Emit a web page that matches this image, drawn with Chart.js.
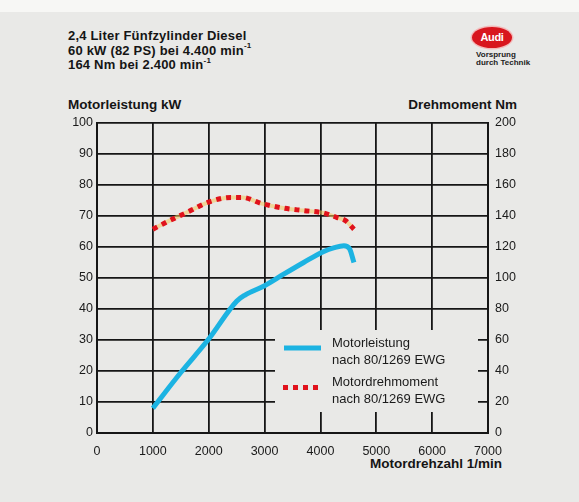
<!DOCTYPE html>
<html>
<head>
<meta charset="utf-8">
<script src="https://cdn.jsdelivr.net/npm/chart.js@4"></script>
<style>
  html, body { margin: 0; padding: 0; }
  body {
    width: 579px; height: 502px; position: relative; overflow: hidden;
    background: #e9e9e7;
    font-family: "Liberation Sans", Arial, sans-serif; color: #151515;
  }
  .strip { position: absolute; left: 0; top: 0; width: 579px; height: 12px; background: #f7f7f5; }
  #chart { position: absolute; left: 0; top: 0; }
  .head { position: absolute; left: 68px; top: 29px; font-size: 13px; font-weight: bold; line-height: 14.5px; letter-spacing: 0.2px; }
  .head sup { font-size: 8px; line-height: 0; position: relative; top: -1px; }
  .axis-title { position: absolute; font-size: 13.5px; font-weight: bold; white-space: nowrap; }
  .logo { position: absolute; left: 472px; top: 27px; width: 40px; height: 21px; border-radius: 50%;
          background: #d8161e; box-shadow: 0 0 0 1.5px #f3b9b9; color: #fff; font-weight: bold;
          font-size: 11px; line-height: 21px; text-align: center; letter-spacing: -0.3px; }
  .slogan { position: absolute; left: 476px; top: 51px; font-size: 8px; font-weight: bold; line-height: 8px; color: #222; }
</style>
</head>
<body>
<div class="strip"></div>
<div class="head">
  2,4 Liter Fünfzylinder Diesel<br>
  60 kW (82 PS) bei 4.400 min<sup>-1</sup><br>
  164 Nm bei 2.400 min<sup>-1</sup>
</div>
<div class="logo">Audi</div>
<div class="slogan">Vorsprung<br>durch Technik</div>
<div class="axis-title" style="left:68px; top:97px;">Motorleistung kW</div>
<div class="axis-title" style="right:62px; top:97px;">Drehmoment Nm</div>
<div class="axis-title" style="right:77px; top:456px;">Motordrehzahl 1/min</div>
<canvas id="chart" width="579" height="502"></canvas>
<script>
const rpmPower = [1000, 1500, 2000, 2500, 2650, 3000, 3350, 3700, 4050, 4250, 4420, 4520, 4600];
const powerKw = [8, 19.5, 30.3, 42.5, 44.5, 47.5, 51.3, 55, 58.5, 59.8, 60.4, 59.5, 55];

const rpmTorque = [1000, 1300, 1650, 2000, 2400, 2600, 2950, 3350, 3700, 4050, 4300, 4450, 4600];
const torqueNm = [131.5, 137, 143, 149, 152, 152, 148, 145, 143.5, 142, 139, 137, 131.5];

const legendLabels = [
  ['Motorleistung', 'nach 80/1269 EWG'],
  ['Motordrehmoment', 'nach 80/1269 EWG']
];

const BG = '#e9e9e7';
const GRID = '#161616';
const BLUE = '#1cb3e2';
const RED = '#e0121c';
const TICK_FONT = { family: '"Liberation Sans", Arial, sans-serif', size: 12.5 };

function points(xs, ys) {
  return xs.map((x, i) => ({ x, y: ys[i] }));
}

// blank the grid behind the legend and draw the legend there
const legendPlugin = {
  id: 'innerLegend',
  beforeDatasetsDraw(chart) {
    const ctx = chart.ctx;
    ctx.save();
    ctx.fillStyle = BG;
    ctx.fillRect(275, 330, 203, 82);
    ctx.restore();
  },
  afterDatasetsDraw(chart) {
    const ctx = chart.ctx;
    ctx.save();
    ctx.lineWidth = 5;
    ctx.strokeStyle = BLUE;
    ctx.beginPath();
    ctx.moveTo(284, 348);
    ctx.lineTo(321, 348);
    ctx.stroke();

    ctx.fillStyle = RED;
    for (let i = 0; i < 4; i++) {
      ctx.fillRect(283 + i * 10, 385, 5, 5);
    }

    ctx.fillStyle = '#1a1a1a';
    ctx.font = '13px "Liberation Sans", Arial, sans-serif';
    ctx.textBaseline = 'middle';
    ctx.fillText(legendLabels[0][0], 332, 343);
    ctx.fillText(legendLabels[0][1], 332, 360);
    ctx.fillText(legendLabels[1][0], 332, 382);
    ctx.fillText(legendLabels[1][1], 332, 399);
    ctx.restore();
  }
};

new Chart(document.getElementById('chart'), {
  type: 'line',
  data: {
    datasets: [
      {
        data: points(rpmPower, powerKw),
        yAxisID: 'y',
        borderColor: BLUE,
        borderWidth: 5,
        pointRadius: 0,
        cubicInterpolationMode: 'monotone',
        order: 1
      },
      {
        data: points(rpmTorque, torqueNm),
        yAxisID: 'y2',
        borderColor: RED,
        borderWidth: 5,
        borderDash: [5, 5],
        borderCapStyle: 'butt',
        pointRadius: 0,
        cubicInterpolationMode: 'monotone',
        order: 2
      },
      {
        data: points(rpmTorque, torqueNm),
        yAxisID: 'y2',
        borderColor: 'rgba(244, 196, 90, 0.55)',
        borderWidth: 4,
        pointRadius: 0,
        cubicInterpolationMode: 'monotone',
        order: 3
      }
    ]
  },
  options: {
    responsive: false,
    animation: false,
    layout: { padding: { top: 123 } },
    plugins: { legend: { display: false }, tooltip: { enabled: false } },
    scales: {
      x: {
        type: 'linear',
        min: 0,
        max: 7000,
        afterFit(scale) { scale.height = 69; },
        ticks: {
          stepSize: 1000,
          padding: 11,
          color: '#1a1a1a',
          font: TICK_FONT,
          callback: (value) => String(value)
        },
        grid: { color: GRID, lineWidth: 1.8, drawTicks: false },
        border: { color: GRID, width: 2 }
      },
      y: {
        position: 'left',
        min: 0,
        max: 100,
        afterFit(scale) { scale.width = 97; },
        ticks: { stepSize: 10, padding: 4, color: '#1a1a1a', font: TICK_FONT },
        grid: { color: GRID, lineWidth: 1.8, drawTicks: false },
        border: { color: GRID, width: 2 }
      },
      y2: {
        position: 'right',
        min: 0,
        max: 200,
        afterFit(scale) { scale.width = 91; },
        ticks: { stepSize: 20, padding: 7, color: '#1a1a1a', font: TICK_FONT },
        grid: { display: false, drawTicks: false },
        border: { color: GRID, width: 2 }
      }
    }
  },
  plugins: [legendPlugin]
});
</script>
</body>
</html>
